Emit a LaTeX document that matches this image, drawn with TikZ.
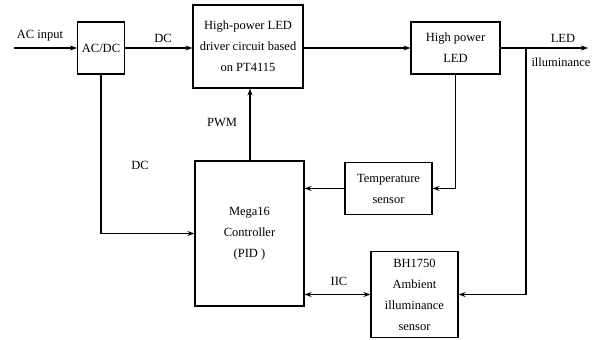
\documentclass[tikz,border=0pt]{standalone}
\usepackage{fontspec}
\setmainfont{Liberation Serif}
\usetikzlibrary{arrows.meta}
\begin{document}
\begin{tikzpicture}[x=1pt,y=-1pt,
  blk/.style={draw, line width=1.1pt, inner sep=0pt, align=center,
    font=\fontsize{12.5}{21}\selectfont},
  lbl/.style={font=\fontsize{12.5}{15}\selectfont, inner sep=0pt},
  conn/.style={line width=1.1pt, -{Stealth[length=7pt,width=5pt]}},
  bconn/.style={line width=1.1pt, {Stealth[length=7pt,width=5pt]}-{Stealth[length=7pt,width=5pt]}}]
\useasboundingbox (0,0) rectangle (592,340);
\node[blk, minimum width=47pt, minimum height=52pt] (acdc) at (101,48) {AC/DC};
\node[blk, minimum width=110pt, minimum height=83pt] (driver) at (248,46.5) {High-power LED\\driver circuit based\\on PT4115};
\node[blk, minimum width=89pt, minimum height=52pt] (led) at (455.5,48) {High power\\LED};
\node[blk, minimum width=87pt, minimum height=52pt] (temp) at (388.5,188.5) {Temperature\\sensor};
\node[blk, minimum width=109pt, minimum height=145pt] (ctrl) at (249.5,233.5) {Mega16\\Controller\\(PID )};
\node[blk, minimum width=87pt, minimum height=86pt] (bh) at (414.5,294.5) {BH1750\\Ambient\\illuminance\\sensor};
\coordinate (in) at (14,48);
\coordinate (out) at (588,48);
\coordinate (jn) at (526,48);
\draw[conn] (in) -- (acdc.west);
\draw[conn] (acdc.east) -- (driver.west |- acdc.east);
\draw[conn] (driver.east |- led.west) -- (led.west);
\draw[conn] (led.east) -- (out);
\draw[conn] (led.south) |- (temp.east);
\draw[conn] (jn) |- (bh.east);
\draw[conn] (temp.west) -- (ctrl.east |- temp.west);
\draw[conn] (ctrl.north -| 250,0) -- (driver.south -| 250,0);
\draw[conn] (acdc.south) |- (ctrl.west);
\draw[bconn] (ctrl.east |- bh.west) -- (bh.west);
\node[lbl] (lacin) at (40,36) {AC input};
\node[lbl] (ldc1) at (163,38) {DC};
\node[lbl] (lpwm) at (222,123) {PWM};
\node[lbl] (ldc2) at (140,165) {DC};
\node[lbl] (liic) at (339,281) {IIC};
\node[lbl] (lled) at (563,38) {LED};
\node[lbl] (lill) at (561,62) {illuminance};
\end{tikzpicture}
\end{document}
